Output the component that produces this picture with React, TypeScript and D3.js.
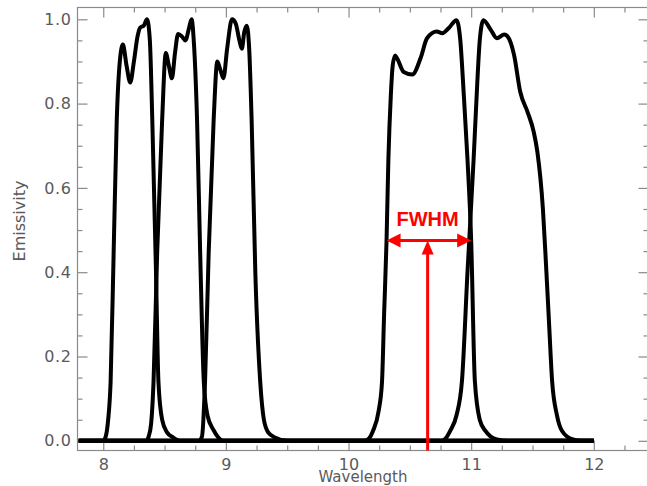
import * as d3 from 'd3';
import React, { useRef, useEffect } from 'react';

// filter response curves (wavelength in microns)
const band1Wl = [7.8, 8.0, 8.02, 8.04, 8.06, 8.085, 8.11, 8.135, 8.16, 8.19, 8.22, 8.25, 8.28, 8.30, 8.33, 8.357, 8.38, 8.40, 8.43, 8.45, 8.48, 8.52, 8.57, 8.63, 12.0];
const band1Em = [0, 0, 0.01, 0.05, 0.14, 0.45, 0.76, 0.90, 0.94, 0.89, 0.85, 0.90, 0.96, 0.98, 0.985, 1.0, 0.95, 0.76, 0.40, 0.14, 0.05, 0.02, 0.008, 0, 0];

const band2Wl = [7.8, 8.35, 8.37, 8.39, 8.41, 8.44, 8.48, 8.51, 8.535, 8.56, 8.585, 8.61, 8.64, 8.67, 8.70, 8.72, 8.74, 8.765, 8.79, 8.82, 8.85, 8.90, 8.98, 12.0];
const band2Em = [0, 0, 0.01, 0.04, 0.14, 0.45, 0.76, 0.92, 0.89, 0.86, 0.92, 0.965, 0.96, 0.95, 0.98, 1.0, 0.94, 0.76, 0.45, 0.14, 0.06, 0.025, 0, 0];

const band3Wl = [7.8, 8.78, 8.805, 8.83, 8.86, 8.90, 8.93, 8.955, 8.98, 9.01, 9.05, 9.08, 9.11, 9.13, 9.15, 9.17, 9.19, 9.21, 9.24, 9.28, 9.31, 9.345, 9.4, 9.5, 12.0];
const band3Em = [0, 0, 0.01, 0.14, 0.45, 0.76, 0.90, 0.88, 0.86, 0.93, 1.0, 0.99, 0.95, 0.93, 0.97, 0.985, 0.93, 0.76, 0.40, 0.14, 0.05, 0.02, 0.008, 0, 0];

const band4Wl = [7.8, 10.13, 10.165, 10.20, 10.245, 10.273, 10.29, 10.31, 10.325, 10.345, 10.36, 10.38, 10.40, 10.45, 10.52, 10.59, 10.64, 10.72, 10.765, 10.82, 10.88, 10.91, 10.94, 10.97, 11.0, 11.03, 11.07, 11.115, 11.21, 11.3, 12.0];
const band4Em = [0, 0, 0.005, 0.024, 0.07, 0.14, 0.30, 0.475, 0.668, 0.82, 0.89, 0.914, 0.905, 0.875, 0.869, 0.91, 0.955, 0.971, 0.967, 0.98, 0.998, 0.955, 0.82, 0.668, 0.475, 0.142, 0.05, 0.024, 0.003, 0, 0];

const band5Wl = [7.8, 10.76, 10.79, 10.83, 10.88, 10.925, 10.97, 11.02, 11.05, 11.07, 11.10, 11.16, 11.21, 11.27, 11.295, 11.35, 11.40, 11.46, 11.51, 11.54, 11.585, 11.61, 11.635, 11.66, 11.70, 11.74, 11.83, 11.9, 12.0];
const band5Em = [0, 0, 0.005, 0.024, 0.06, 0.142, 0.40, 0.668, 0.85, 0.95, 0.998, 0.975, 0.955, 0.964, 0.96, 0.915, 0.828, 0.78, 0.733, 0.685, 0.55, 0.42, 0.28, 0.142, 0.06, 0.024, 0.003, 0, 0];

const bands = [
    [band1Wl, band1Em],
    [band2Wl, band2Em],
    [band3Wl, band3Em],
    [band4Wl, band4Em],
    [band5Wl, band5Em],
];

const xMajor = [8, 9, 10, 11, 12];
const yMajor = [0.0, 0.2, 0.4, 0.6, 0.8, 1.0];

// FWHM annotation on band 4
const fwhmLeft = 10.31;
const fwhmRight = 11.0;
const fwhmCenter = 10.645;
const halfMax = 0.475;

const FONT = "'DejaVu Sans', sans-serif";

function App() {
    const ref = useRef(null);

    useEffect(() => {
        let svg = d3.select(ref.current);
        svg.selectAll('*').remove();
        draw();
    }, []);

    const draw = () => {
        const svg = d3.select(ref.current);

        const x = d3.scaleLinear().domain([7.79, 12.446]).range([77.5, 648.5]);
        const y = d3.scaleLinear().domain([-0.023, 1.028]).range([450.5, 7.5]);

        const axisColor = '#8a8a8a';
        const labelColor = '#5a5a5a';

        const xMinor = d3.range(31, 50).map(d => d / 4).filter(d => d % 1 !== 0 && d > 7.79 && d < 12.44);
        const yMinor = d3.range(0, 21).map(d => d / 20).filter(d => Math.round(d * 100) % 20 !== 0);

        // frame
        svg.append('rect')
            .attr('x', x.range()[0])
            .attr('y', y.range()[1])
            .attr('width', x.range()[1] - x.range()[0])
            .attr('height', y.range()[0] - y.range()[1])
            .attr('fill', 'none')
            .attr('stroke', axisColor)
            .attr('stroke-width', 1.2);

        const styleAxis = (g) => {
            g.select('.domain').remove();
            g.selectAll('line').attr('stroke', axisColor).attr('stroke-width', 1.2);
        };

        // bottom + top axes, ticks pointing inwards
        svg.append('g').attr('transform', `translate(0,${y.range()[0]})`)
            .call(d3.axisBottom(x).tickValues(xMajor).tickSize(-10).tickFormat(d3.format('d')))
            .call(styleAxis)
            .selectAll('text')
            .attr('y', 8)
            .attr('font-family', FONT)
            .attr('font-size', '16px')
            .attr('fill', labelColor);
        svg.append('g').attr('transform', `translate(0,${y.range()[0]})`)
            .call(d3.axisBottom(x).tickValues(xMinor).tickSize(-5).tickFormat(() => ''))
            .call(styleAxis);
        svg.append('g').attr('transform', `translate(0,${y.range()[1]})`)
            .call(d3.axisTop(x).tickValues(xMajor).tickSize(-10).tickFormat(() => ''))
            .call(styleAxis);
        svg.append('g').attr('transform', `translate(0,${y.range()[1]})`)
            .call(d3.axisTop(x).tickValues(xMinor).tickSize(-5).tickFormat(() => ''))
            .call(styleAxis);

        // left + right axes
        svg.append('g').attr('transform', `translate(${x.range()[0]},0)`)
            .call(d3.axisLeft(y).tickValues(yMajor).tickSize(-10).tickFormat(d3.format('.1f')))
            .call(styleAxis)
            .selectAll('text')
            .attr('x', -6)
            .attr('font-family', FONT)
            .attr('font-size', '16px')
            .attr('letter-spacing', '0.6px')
            .attr('fill', labelColor);
        svg.append('g').attr('transform', `translate(${x.range()[0]},0)`)
            .call(d3.axisLeft(y).tickValues(yMinor).tickSize(-5).tickFormat(() => ''))
            .call(styleAxis);
        svg.append('g').attr('transform', `translate(${x.range()[1]},0)`)
            .call(d3.axisRight(y).tickValues(yMajor).tickSize(-10).tickFormat(() => ''))
            .call(styleAxis);
        svg.append('g').attr('transform', `translate(${x.range()[1]},0)`)
            .call(d3.axisRight(y).tickValues(yMinor).tickSize(-5).tickFormat(() => ''))
            .call(styleAxis);

        // axis titles
        svg.append('text')
            .attr('x', (x.range()[0] + x.range()[1]) / 2)
            .attr('y', 482)
            .attr('text-anchor', 'middle')
            .attr('font-family', FONT)
            .attr('font-size', '15px')
            .attr('fill', labelColor)
            .text('Wavelength');
        svg.append('text')
            .attr('transform', 'translate(25,221) rotate(-90)')
            .attr('text-anchor', 'middle')
            .attr('font-family', FONT)
            .attr('font-size', '16px')
            .attr('fill', labelColor)
            .text('Emissivity');

        // curves
        const line = d3.line()
            .x(d => x(d[0]))
            .y(d => y(d[1]))
            .curve(d3.curveMonotoneX);

        bands.forEach(([wl, em]) => {
            svg.append('path')
                .datum(wl.map((w, i) => [w, em[i]]))
                .attr('d', line)
                .attr('fill', 'none')
                .attr('stroke', '#000')
                .attr('stroke-width', 4)
                .attr('stroke-linejoin', 'round');
        });

        // FWHM annotation
        const red = '#ff0000';
        const hy = y(halfMax);
        const xl = x(fwhmLeft), xr = x(fwhmRight), xc = x(fwhmCenter);
        const head = 14, half = 7;

        svg.append('line')
            .attr('x1', xl + head - 2).attr('x2', xr - head + 2)
            .attr('y1', hy).attr('y2', hy)
            .attr('stroke', red).attr('stroke-width', 3);
        svg.append('line')
            .attr('x1', xc).attr('x2', xc)
            .attr('y1', y.range()[0]).attr('y2', hy + head - 2)
            .attr('stroke', red).attr('stroke-width', 3);

        const heads = [
            [[xl, hy], [xl + head, hy - half], [xl + head, hy + half]],
            [[xr, hy], [xr - head, hy - half], [xr - head, hy + half]],
            [[xc, hy], [xc - half + 1, hy + head], [xc + half - 1, hy + head]],
        ];
        svg.selectAll('.arrowhead')
            .data(heads)
            .enter()
            .append('polygon')
            .attr('class', 'arrowhead')
            .attr('points', d => d.map(p => p.join(',')).join(' '))
            .attr('fill', red);

        svg.append('text')
            .attr('x', xc)
            .attr('y', 226)
            .attr('text-anchor', 'middle')
            .attr('font-family', "'Liberation Sans', Arial, sans-serif")
            .attr('font-weight', 'bold')
            .attr('font-size', '20px')
            .attr('fill', red)
            .text('FWHM');
    };

    return (
        <svg ref={ref} width={647} height={486}
             style={{ position: 'absolute', left: 0, top: 0, background: '#fff' }}>
        </svg>
    );
}

export default App;
